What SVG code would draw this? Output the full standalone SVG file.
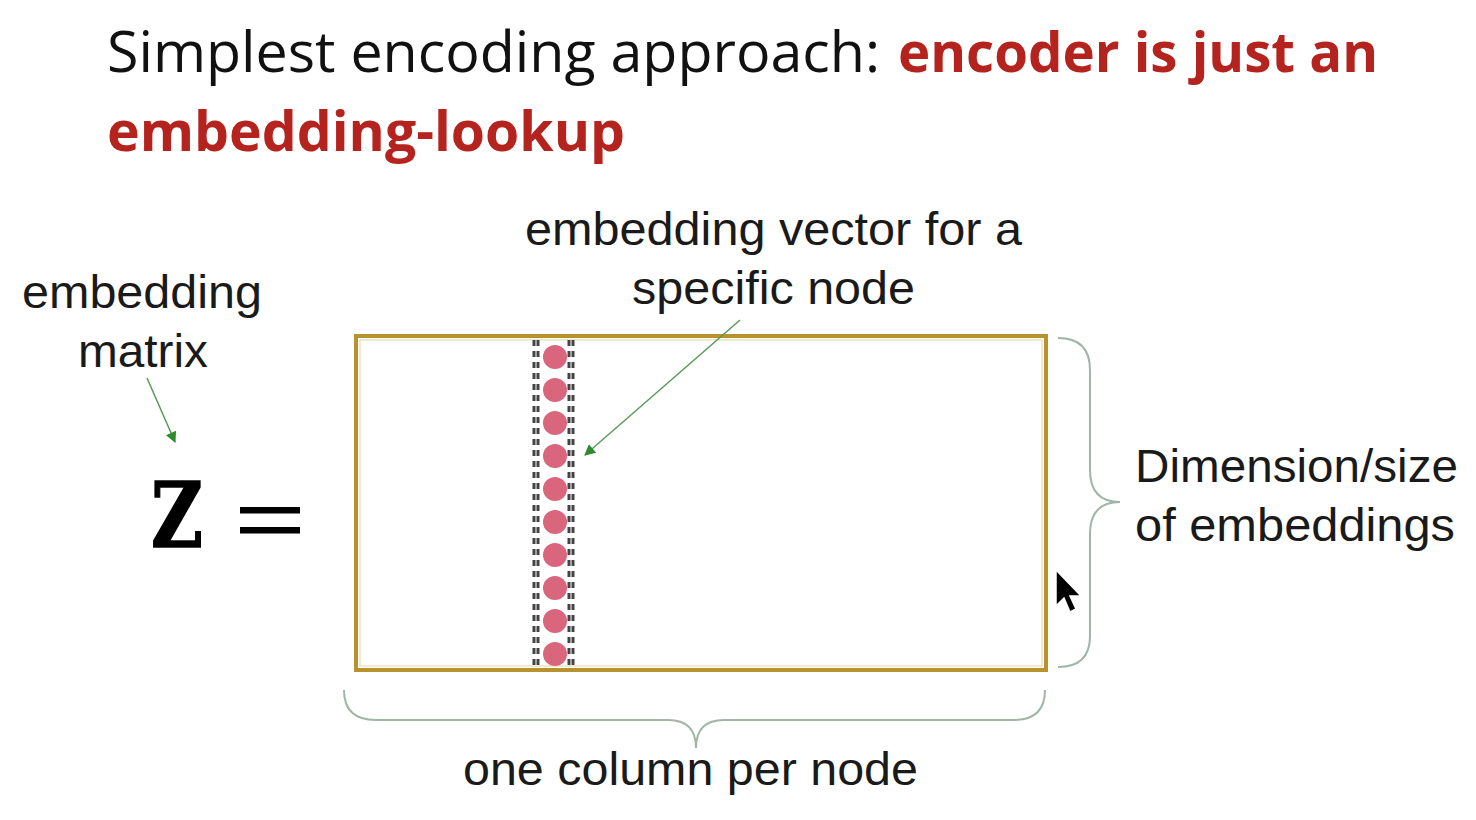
<svg xmlns="http://www.w3.org/2000/svg" width="1476" height="820" viewBox="0 0 1476 820">
<style>
.title{font-family:"Open Sans","Liberation Sans",sans-serif;font-size:56px}
.red{fill:#b5231e;font-weight:bold}
.lbl{font-family:"Liberation Sans",Arial,sans-serif;font-size:46px;fill:#1a1a1a}
.brace{fill:none;stroke:#9fb5a8;stroke-width:2}
.ptr{stroke:#5a9a5a;stroke-width:1.5;fill:none}
.dot{fill:#d9667c}
.dash{stroke:#444;stroke-width:3;stroke-dasharray:6 5}
</style>
<defs>
<marker id="ah" viewBox="0 0 10 10" refX="9" refY="5" markerWidth="12" markerHeight="11" orient="auto" markerUnits="userSpaceOnUse">
<path d="M0,0 L10,5 L0,10 z" fill="#2e8b2e"/>
</marker>
</defs>
<rect width="1476" height="820" fill="#ffffff"/>
<g id="title">
<text class="title" x="107" y="72" fill="#111" textLength="773" lengthAdjust="spacingAndGlyphs">Simplest encoding approach:</text>
<text class="title red" x="898" y="72" textLength="480" lengthAdjust="spacingAndGlyphs">encoder is just an</text>
<text class="title red" x="107" y="151" textLength="518" lengthAdjust="spacingAndGlyphs">embedding-lookup</text>
</g>
<g id="matrix-label">
<text class="lbl" x="22" y="308" textLength="240" lengthAdjust="spacingAndGlyphs">embedding</text>
<text class="lbl" x="78" y="367" textLength="130" lengthAdjust="spacingAndGlyphs">matrix</text>
</g>
<g id="z-eq">
<text x="151" y="547" font-family="'DejaVu Serif','Liberation Serif',serif" font-weight="bold" font-size="90" fill="#000" stroke="#000" stroke-width="1.5" textLength="52" lengthAdjust="spacingAndGlyphs">Z</text>
<rect x="240" y="507" width="60" height="6.5" fill="#000"/>
<rect x="240" y="527" width="60" height="6.5" fill="#000"/>
</g>
<g id="matrix">
<rect x="356" y="336" width="690" height="334" fill="#fff" stroke="#b8922e" stroke-width="4"/>
<rect x="360" y="340" width="682" height="326" fill="none" stroke="#e8d49a" stroke-width="1"/>
</g>
<g id="column">
<line class="dash" x1="534" y1="340" x2="534" y2="668"/>
<line class="dash" x1="538" y1="340" x2="538" y2="668"/>
<line class="dash" x1="569" y1="340" x2="569" y2="668"/>
<line class="dash" x1="573" y1="340" x2="573" y2="668"/>
<circle class="dot" cx="555" cy="357" r="12"/>
<circle class="dot" cx="555" cy="390" r="12"/>
<circle class="dot" cx="555" cy="423" r="12"/>
<circle class="dot" cx="555" cy="456" r="12"/>
<circle class="dot" cx="555" cy="489" r="12"/>
<circle class="dot" cx="555" cy="522" r="12"/>
<circle class="dot" cx="555" cy="555" r="12"/>
<circle class="dot" cx="555" cy="588" r="12"/>
<circle class="dot" cx="555" cy="621" r="12"/>
<circle class="dot" cx="555" cy="654" r="12"/>
</g>
<g id="vector-label">
<text class="lbl" x="525" y="245" textLength="497" lengthAdjust="spacingAndGlyphs">embedding vector for a</text>
<text class="lbl" x="632" y="304" textLength="283" lengthAdjust="spacingAndGlyphs">specific node</text>
</g>
<g id="dim-label">
<text class="lbl" x="1135" y="482" textLength="323" lengthAdjust="spacingAndGlyphs">Dimension/size</text>
<text class="lbl" x="1135" y="541" textLength="320" lengthAdjust="spacingAndGlyphs">of embeddings</text>
</g>
<g id="col-label">
<text class="lbl" x="463" y="785" textLength="455" lengthAdjust="spacingAndGlyphs">one column per node</text>
</g>
<g id="connectors">
<line class="ptr" x1="147" y1="378" x2="175" y2="442" marker-end="url(#ah)"/>
<line class="ptr" x1="740" y1="320" x2="585" y2="455" marker-end="url(#ah)"/>
<path class="brace" d="M1058,338 Q1090,338 1090,370 L1090,470 Q1090,502 1120,502 Q1090,502 1090,534 L1090,636 Q1090,667 1058,667"/>
<path class="brace" d="M344,690 Q344,720 376,720 L668,720 Q696,720 696,748 Q696,720 724,720 L1014,720 Q1045,720 1045,690"/>
</g>
<g id="cursor">
<path d="M1056,570 L1056,606 L1064,598 L1070,612 L1076,609 L1070,596 L1081,596 Z" fill="#000" stroke="#fff" stroke-width="1.5"/>
</g>
</svg>
